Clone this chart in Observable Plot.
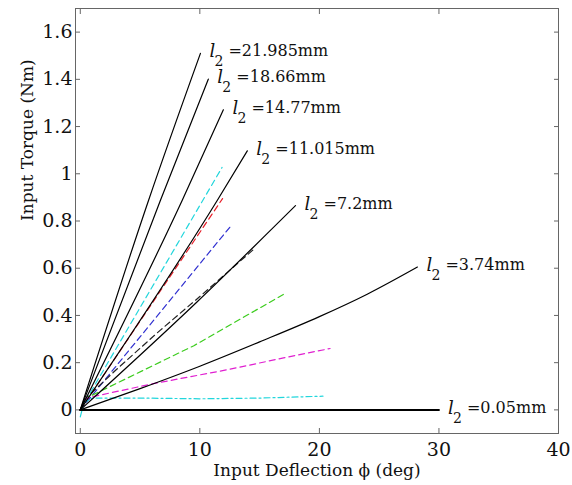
<!DOCTYPE html>
<html><head><meta charset="utf-8">
<script src="https://cdn.jsdelivr.net/npm/d3@7"></script>
<script src="https://cdn.jsdelivr.net/npm/@observablehq/plot@0.6"></script>
<style>html,body{margin:0;padding:0;background:#fff}svg{display:block}</style>
</head><body><div id="chart"></div>
<script>
// ---- axis text ----
const xTicks = [0, 10, 20, 30, 40];
const yTicks = [0, 0.2, 0.4, 0.6, 0.8, 1, 1.2, 1.4, 1.6];
const xLabel = "Input Deflection \u03d5 (deg)";
const yLabel = "Input Torque (Nm)";

// ---- solid black curves (one per l2) ----
const l2Texts = ["=21.985mm", "=18.66mm", "=14.77mm", "=11.015mm", "=7.2mm", "=3.74mm", "=0.05mm"];
const phi_21985 = [0, 5.7, 10.05];
const tau_21985 = [0, 0.886, 1.51];
const phi_1866 = [0, 6.69, 10.71];
const tau_1866 = [0, 0.886, 1.401];
const phi_1477 = [0, 8.51, 11.97];
const tau_1477 = [0, 0.886, 1.271];
const phi_11015 = [0, 11.44, 13.97];
const tau_11015 = [0, 0.886, 1.097];
const phi_72 = [0, 9.76, 18.0];
const tau_72 = [0, 0.457, 0.865];
const phi_374 = [0, 5, 10, 15, 20, 24, 28.2];
const tau_374 = [0, 0.09, 0.185, 0.288, 0.395, 0.49, 0.605];
const phi_005 = [0, 30];
const tau_005 = [0, 0];

// ---- dashed comparison curves ----
const phi_cyanA = [0, 11.86];
const tau_cyanA = [0, 1.027];
const phi_red = [0, 11.9];
const tau_red = [0, 0.895];
const phi_blue = [0, 12.69];
const tau_blue = [0, 0.785];
const phi_blackD = [0, 0.5, 3, 6.7, 10, 14.5];
const tau_blackD = [0, 0.05, 0.17, 0.338, 0.48, 0.68];
const phi_green = [0, 0.5, 9.5, 17.2];
const tau_green = [0, 0.05, 0.272, 0.495];
const phi_magenta = [0, 0.5, 6, 12.3, 17, 20.9];
const tau_magenta = [0, 0.05, 0.11, 0.17, 0.22, 0.26];
const phi_cyanB = [0, 0.3, 1, 5, 10, 15, 20.3];
const tau_cyanB = [-0.03, 0.03, 0.05, 0.05, 0.047, 0.05, 0.058];

const rows = (xs, ys) => xs.map((x, i) => ({x, y: ys[i]}));

const solid = [
  rows(phi_21985, tau_21985), rows(phi_1866, tau_1866), rows(phi_1477, tau_1477),
  rows(phi_11015, tau_11015), rows(phi_72, tau_72), rows(phi_374, tau_374)
];
const flat = rows(phi_005, tau_005);
const allSolid = [...solid, flat];
const labelRows = allSolid.map((s, i) => ({...s[s.length - 1], t: l2Texts[i]}));

const dashed = [
  {d: rows(phi_cyanA, tau_cyanA), c: "#22d6dc", a: "6,4"},
  {d: rows(phi_red, tau_red), c: "#e61e28", a: "6,4"},
  {d: rows(phi_blue, tau_blue), c: "#3030d0", a: "6,4"},
  {d: rows(phi_blackD, tau_blackD), c: "#222", a: "6,4"},
  {d: rows(phi_green, tau_green), c: "#3ccc1e", a: "6,4"},
  {d: rows(phi_magenta, tau_magenta), c: "#e020d0", a: "6,4"},
  {d: rows(phi_cyanB, tau_cyanB), c: "#22d6dc", a: "6,3,2,3"}
];

const fmtY = d => String(+d.toFixed(1));
const gray = "#666";

const chart = Plot.plot({
  width: 572, height: 485,
  marginLeft: 75, marginRight: 14, marginTop: 8, marginBottom: 52,
  x: {domain: [-0.4, 40]},
  y: {domain: [-0.1, 1.7]},
  style: {fontFamily: "'DejaVu Serif', serif", background: "#fff", color: "#000"},
  marks: [
    Plot.frame({stroke: gray, strokeWidth: 1}),
    // tick labels
    Plot.axisX({ticks: xTicks, tickSize: 0, tickPadding: 9, fontSize: 19, label: null, fill: "#111"}),
    Plot.axisY({ticks: yTicks, tickSize: 0, tickPadding: 3, fontSize: 19, label: null, tickFormat: fmtY, fill: "#111"}),
    // inward tick marks on all four sides
    Plot.axisX({ticks: xTicks, anchor: "bottom", tickSize: 5, dy: -5, tickFormat: () => "", label: null, stroke: gray}),
    Plot.axisX({ticks: xTicks, anchor: "top", tickSize: 5, dy: 5, tickFormat: () => "", label: null, stroke: gray}),
    Plot.axisY({ticks: yTicks, anchor: "left", tickSize: 5, dx: 5, tickFormat: () => "", label: null, stroke: gray}),
    Plot.axisY({ticks: yTicks, anchor: "right", tickSize: 5, dx: -5, tickFormat: () => "", label: null, stroke: gray}),
    // axis titles
    Plot.text([xLabel], {frameAnchor: "bottom", dy: 42, text: d => d, fontSize: 17, lineAnchor: "bottom", fill: "#111"}),
    Plot.text([yLabel], {frameAnchor: "left", dx: -43, text: d => d, fontSize: 17, rotate: -90, lineAnchor: "bottom", fill: "#111"}),
    // dashed curves
    ...dashed.map(s => Plot.line(s.d, {x: "x", y: "y", stroke: s.c, strokeWidth: 1.2, strokeDasharray: s.a})),
    // solid curves
    ...solid.map(s => Plot.line(s, {x: "x", y: "y", stroke: "#000", strokeWidth: 1.2, curve: "monotone-x"})),
    Plot.line(flat, {x: "x", y: "y", stroke: "#000", strokeWidth: 2}),
    // labels l_2 = ...
    Plot.text(labelRows, {x: "x", y: "y", text: () => "l", fontStyle: "italic", fontSize: 18, dx: 9, dy: 4, textAnchor: "start", lineAnchor: "bottom", fill: "#111"}),
    Plot.text(labelRows, {x: "x", y: "y", text: () => "2", fontSize: 14, dx: 14, dy: 13, textAnchor: "start", lineAnchor: "bottom", fill: "#111"}),
    Plot.text(labelRows, {x: "x", y: "y", text: "t", fontSize: 16, dx: 28, dy: 3, textAnchor: "start", lineAnchor: "bottom", fill: "#111"})
  ]
});
document.getElementById("chart").appendChild(chart);
</script>
</body></html>
